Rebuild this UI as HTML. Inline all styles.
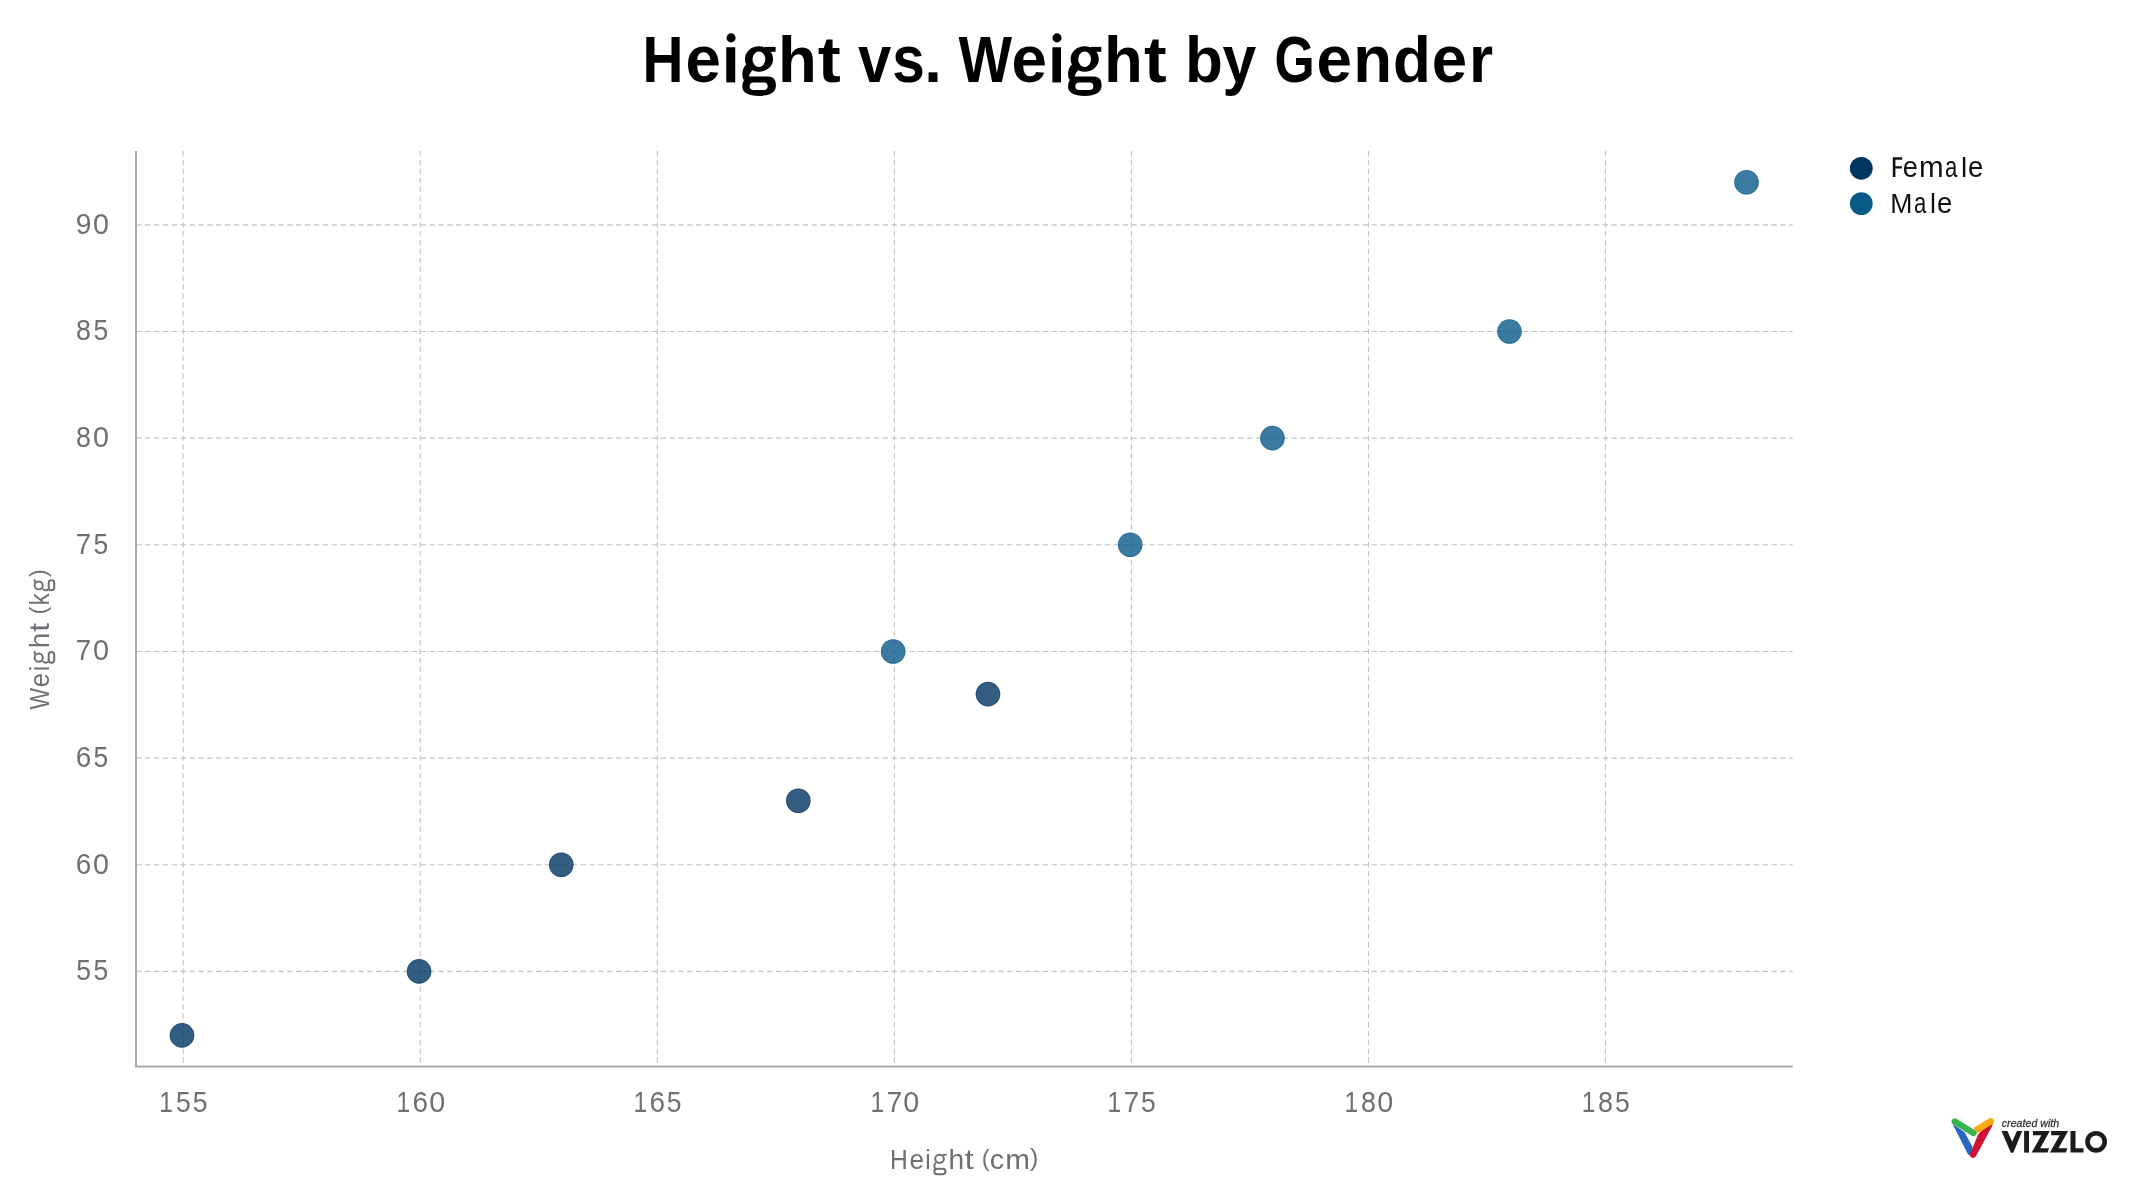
<!DOCTYPE html>
<html><head><meta charset="utf-8"><style>
html,body{margin:0;padding:0;background:#fff;width:2133px;height:1200px;overflow:hidden}
svg{display:block;will-change:transform}
text{font-family:"Liberation Sans",sans-serif}
</style></head><body>
<svg width="2133" height="1200" viewBox="0 0 2133 1200">
<rect width="2133" height="1200" fill="#fff"/>
<g stroke="#c3c3c3" stroke-width="1.11" stroke-dasharray="5.4 3.488"><line x1="183.20" y1="151.046" x2="183.20" y2="1066" /><line x1="420.25" y1="151.046" x2="420.25" y2="1066" /><line x1="657.30" y1="151.046" x2="657.30" y2="1066" /><line x1="894.35" y1="151.046" x2="894.35" y2="1066" /><line x1="1131.40" y1="151.046" x2="1131.40" y2="1066" /><line x1="1368.45" y1="151.046" x2="1368.45" y2="1066" /><line x1="1605.50" y1="151.046" x2="1605.50" y2="1066" /><line x1="136.06" y1="971.40" x2="1792.7" y2="971.40" /><line x1="136.06" y1="864.75" x2="1792.7" y2="864.75" /><line x1="136.06" y1="758.10" x2="1792.7" y2="758.10" /><line x1="136.06" y1="651.45" x2="1792.7" y2="651.45" /><line x1="136.06" y1="544.80" x2="1792.7" y2="544.80" /><line x1="136.06" y1="438.15" x2="1792.7" y2="438.15" /><line x1="136.06" y1="331.50" x2="1792.7" y2="331.50" /><line x1="136.06" y1="224.85" x2="1792.7" y2="224.85" /></g>
<path d="M136 151 V1066.6 H1792.7" fill="none" stroke="#a9a9a9" stroke-width="2"/>
<g font-size="29" fill="#6e7075"><text transform="translate(76.26 980.15) scale(0.9124 1.025)">5</text><text transform="translate(93.56 980.15) scale(0.9124 1.025)">5</text><text transform="translate(75.71 873.50) scale(0.9627 1.025)">6</text><text transform="translate(92.91 873.50) scale(0.9928 1.025)">0</text><text transform="translate(75.71 766.85) scale(0.9627 1.025)">6</text><text transform="translate(93.56 766.85) scale(0.9124 1.025)">5</text><text transform="translate(75.87 660.20) scale(0.9545 1.025)">7</text><text transform="translate(92.91 660.20) scale(0.9928 1.025)">0</text><text transform="translate(75.87 553.55) scale(0.9545 1.025)">7</text><text transform="translate(93.56 553.55) scale(0.9124 1.025)">5</text><text transform="translate(76.10 446.90) scale(0.9265 1.025)">8</text><text transform="translate(92.91 446.90) scale(0.9928 1.025)">0</text><text transform="translate(76.10 340.25) scale(0.9265 1.025)">8</text><text transform="translate(93.56 340.25) scale(0.9124 1.025)">5</text><text transform="translate(75.68 233.60) scale(0.9776 1.025)">9</text><text transform="translate(92.91 233.60) scale(0.9928 1.025)">0</text><text transform="translate(159.33 1112.20) scale(0.8480 1.0)">1</text><text transform="translate(175.96 1112.20) scale(0.9124 1.0)">5</text><text transform="translate(192.76 1112.20) scale(0.9124 1.0)">5</text><text transform="translate(396.38 1112.20) scale(0.8480 1.0)">1</text><text transform="translate(412.46 1112.20) scale(0.9627 1.0)">6</text><text transform="translate(429.16 1112.20) scale(0.9928 1.0)">0</text><text transform="translate(633.43 1112.20) scale(0.8480 1.0)">1</text><text transform="translate(649.51 1112.20) scale(0.9627 1.0)">6</text><text transform="translate(666.86 1112.20) scale(0.9124 1.0)">5</text><text transform="translate(870.48 1112.20) scale(0.8480 1.0)">1</text><text transform="translate(886.72 1112.20) scale(0.9545 1.0)">7</text><text transform="translate(903.26 1112.20) scale(0.9928 1.0)">0</text><text transform="translate(1107.53 1112.20) scale(0.8480 1.0)">1</text><text transform="translate(1123.77 1112.20) scale(0.9545 1.0)">7</text><text transform="translate(1140.96 1112.20) scale(0.9124 1.0)">5</text><text transform="translate(1344.58 1112.20) scale(0.8480 1.0)">1</text><text transform="translate(1361.05 1112.20) scale(0.9265 1.0)">8</text><text transform="translate(1377.36 1112.20) scale(0.9928 1.0)">0</text><text transform="translate(1581.63 1112.20) scale(0.8480 1.0)">1</text><text transform="translate(1598.10 1112.20) scale(0.9265 1.0)">8</text><text transform="translate(1615.06 1112.20) scale(0.9124 1.0)">5</text></g>
<g transform="translate(892.1 1168.9)" font-size="28" fill="#6e7075"><text transform="translate(-2.02 0) scale(0.8782 1)">H</text><text transform="translate(17.28 0) scale(0.9313 1)">e</text><text transform="translate(33.24 0) scale(0.8750 1)">i</text><g transform="translate(41.10 0) scale(1.0000 1)" fill="none" stroke="#6e7075"><ellipse cx="6.35" cy="-10.05" rx="4.35" ry="4.05" stroke-width="2.0"/><path d="M9.6 -14.1 H13.3" stroke-width="1.9"/><path d="M2.6 -6.2 Q-0.2 -3.0 2.2 -0.2" stroke-width="1.9"/><rect x="1.1" y="-0.05" width="11.1" height="5.5" rx="2.75" stroke-width="2.0"/></g><text transform="translate(56.28 0) scale(1.0084 1)">h</text><text transform="translate(72.54 0) scale(1.1389 1)">t</text><text transform="translate(89.75 -2.77) scale(0.8514 0.824)">(</text><text transform="translate(97.77 0) scale(1.0248 1)">c</text><text transform="translate(113.18 0) scale(1.0612 1)">m</text><text transform="translate(137.82 -2.77) scale(0.8919 0.824)">)</text></g>
<g transform="translate(48.75 710) rotate(-90)" font-size="28" fill="#6e7075"><text transform="translate(0.44 0) scale(0.8161 1)">W</text><text transform="translate(22.66 0) scale(0.9046 1)">e</text><text transform="translate(39.10 0) scale(0.7917 1)">i</text><g transform="translate(46.25 0) scale(0.9662 1)" fill="none" stroke="#6e7075"><ellipse cx="6.35" cy="-10.05" rx="4.35" ry="4.05" stroke-width="2.0"/><path d="M9.6 -14.1 H13.3" stroke-width="1.9"/><path d="M2.6 -6.2 Q-0.2 -3.0 2.2 -0.2" stroke-width="1.9"/><rect x="1.1" y="-0.05" width="11.1" height="5.5" rx="2.75" stroke-width="2.0"/></g><text transform="translate(61.82 0) scale(0.9916 1)">h</text><text transform="translate(78.30 0) scale(1.1319 1)">t</text><text transform="translate(95.48 -2.77) scale(0.8378 0.824)">(</text><text transform="translate(104.58 0) scale(0.8802 1)">k</text><g transform="translate(118.75 0) scale(0.9135 1)" fill="none" stroke="#6e7075"><ellipse cx="6.35" cy="-10.05" rx="4.35" ry="4.05" stroke-width="2.0"/><path d="M9.6 -14.1 H13.3" stroke-width="1.9"/><path d="M2.6 -6.2 Q-0.2 -3.0 2.2 -0.2" stroke-width="1.9"/><rect x="1.1" y="-0.05" width="11.1" height="5.5" rx="2.75" stroke-width="2.0"/></g><text transform="translate(132.94 -2.77) scale(0.8108 0.824)">)</text></g>
<circle cx="182.00" cy="1035.39" r="12.3" fill="#003562" fill-opacity="0.8"/><circle cx="182.00" cy="1035.39" r="11.8" fill="none" stroke="#003562" stroke-opacity="0.3" stroke-width="1"/><circle cx="419.05" cy="971.40" r="12.3" fill="#003562" fill-opacity="0.8"/><circle cx="419.05" cy="971.40" r="11.8" fill="none" stroke="#003562" stroke-opacity="0.3" stroke-width="1"/><circle cx="561.28" cy="864.75" r="12.3" fill="#003562" fill-opacity="0.8"/><circle cx="561.28" cy="864.75" r="11.8" fill="none" stroke="#003562" stroke-opacity="0.3" stroke-width="1"/><circle cx="798.33" cy="800.76" r="12.3" fill="#003562" fill-opacity="0.8"/><circle cx="798.33" cy="800.76" r="11.8" fill="none" stroke="#003562" stroke-opacity="0.3" stroke-width="1"/><circle cx="987.97" cy="694.11" r="12.3" fill="#003562" fill-opacity="0.8"/><circle cx="987.97" cy="694.11" r="11.8" fill="none" stroke="#003562" stroke-opacity="0.3" stroke-width="1"/><circle cx="893.15" cy="651.45" r="12.3" fill="#0a5a8a" fill-opacity="0.8"/><circle cx="893.15" cy="651.45" r="11.8" fill="none" stroke="#0a5a8a" stroke-opacity="0.3" stroke-width="1"/><circle cx="1130.20" cy="544.80" r="12.3" fill="#0a5a8a" fill-opacity="0.8"/><circle cx="1130.20" cy="544.80" r="11.8" fill="none" stroke="#0a5a8a" stroke-opacity="0.3" stroke-width="1"/><circle cx="1272.43" cy="438.15" r="12.3" fill="#0a5a8a" fill-opacity="0.8"/><circle cx="1272.43" cy="438.15" r="11.8" fill="none" stroke="#0a5a8a" stroke-opacity="0.3" stroke-width="1"/><circle cx="1509.48" cy="331.50" r="12.3" fill="#0a5a8a" fill-opacity="0.8"/><circle cx="1509.48" cy="331.50" r="11.8" fill="none" stroke="#0a5a8a" stroke-opacity="0.3" stroke-width="1"/><circle cx="1746.53" cy="182.19" r="12.3" fill="#0a5a8a" fill-opacity="0.8"/><circle cx="1746.53" cy="182.19" r="11.8" fill="none" stroke="#0a5a8a" stroke-opacity="0.3" stroke-width="1"/>
<circle cx="1861.3" cy="168.3" r="11.4" fill="#003562"/>
<circle cx="1861.3" cy="203.6" r="11.4" fill="#0a5a87"/>
<g font-size="28" fill="#111"><text transform="translate(1902.73 177.1) scale(0.9771 1.03)">e</text><text transform="translate(1919.09 177.1) scale(1.0561 1.03)">m</text><text transform="translate(1944.95 177.1) scale(0.7917 1.03)">a</text><text transform="translate(1960.90 177.1) scale(1.0000 1.0)">l</text><text transform="translate(1968.02 177.1) scale(0.9847 1.03)">e</text><text transform="translate(1890.31 213.0) scale(0.9519 1.0)">M</text><text transform="translate(1914.05 213.0) scale(0.7917 1.03)">a</text><text transform="translate(1930.08 213.0) scale(0.9583 1.0)">l</text><text transform="translate(1937.12 213.0) scale(0.9847 1.03)">e</text><path d="M1892.8 157.3 H1902.2 V159.7 H1895.4 V166.2 H1901.9 V168.6 H1895.4 V177.1 H1892.8 Z"/></g>
<g font-size="65.5" font-weight="bold" fill="#000"><text transform="translate(642.59 82.4) scale(0.8662 1.0)">H</text><text transform="translate(685.47 82.4) scale(0.9731 1.027)">e</text><rect x="726.25" y="47.25" width="9.00" height="35.15"/><circle cx="731.05" cy="37.9" r="4.55"/><path fill-rule="evenodd" d="M744.90 59 A14.1 12.75 0 1 0 773.10 59 A14.1 12.75 0 1 0 744.90 59 Z M752.50 59.25 A6.4 7.75 0 1 0 765.30 59.25 A6.4 7.75 0 1 0 752.50 59.25 Z"/><rect x="765.00" y="46.9" width="10.6" height="4.9"/><path d="M746.80 64.0 C742.20 68.0 741.40 74 743.40 79.5 L750.00 80.5 C748.40 78 748.60 74.0 753.00 69.6 Z"/><path fill-rule="evenodd" d="M749.40 76.5 H767.90 C773.90 76.5 775.90 80 775.90 85.6 C775.90 92.5 769.90 95.9 759.15 95.9 C748.40 95.9 742.40 92.5 742.40 87 C742.40 81 745.40 76.5 749.40 76.5 Z M753.40 82.5 H763.90 A3.75 3.75 0 0 1 763.90 90 H753.40 A3.75 3.75 0 0 1 753.40 82.5 Z"/><text transform="translate(778.09 82.4) scale(0.9696 1.0)">h</text><text transform="translate(817.86 82.4) scale(1.0545 1.0)">t</text><text transform="translate(857.98 82.4) scale(0.9120 1.027)">v</text><text transform="translate(892.24 82.4) scale(0.8949 1.027)">s</text><text transform="translate(924.14 82.4) scale(0.9677 1.0)">.</text><text transform="translate(958.51 82.4) scale(0.8653 1.0)">W</text><text transform="translate(1011.57 82.4) scale(0.9747 1.027)">e</text><rect x="1052.40" y="47.25" width="8.60" height="35.15"/><circle cx="1057.00" cy="37.9" r="4.55"/><path fill-rule="evenodd" d="M1070.60 59 A14.1 12.75 0 1 0 1098.80 59 A14.1 12.75 0 1 0 1070.60 59 Z M1078.20 59.25 A6.4 7.75 0 1 0 1091.00 59.25 A6.4 7.75 0 1 0 1078.20 59.25 Z"/><rect x="1090.70" y="46.9" width="10.6" height="4.9"/><path d="M1072.50 64.0 C1067.90 68.0 1067.10 74 1069.10 79.5 L1075.70 80.5 C1074.10 78 1074.30 74.0 1078.70 69.6 Z"/><path fill-rule="evenodd" d="M1075.10 76.5 H1093.60 C1099.60 76.5 1101.60 80 1101.60 85.6 C1101.60 92.5 1095.60 95.9 1084.85 95.9 C1074.10 95.9 1068.10 92.5 1068.10 87 C1068.10 81 1071.10 76.5 1075.10 76.5 Z M1079.10 82.5 H1089.60 A3.75 3.75 0 0 1 1089.60 90 H1079.10 A3.75 3.75 0 0 1 1079.10 82.5 Z"/><text transform="translate(1103.94 82.4) scale(0.9696 1.0)">h</text><text transform="translate(1144.07 82.4) scale(1.0396 1.0)">t</text><text transform="translate(1185.03 82.4) scale(0.9455 1.0)">b</text><text transform="translate(1222.44 82.4) scale(0.9270 1.027)">y</text><text transform="translate(1274.62 82.4) scale(0.7885 1.0)">G</text><text transform="translate(1316.57 82.4) scale(0.9747 1.027)">e</text><text transform="translate(1353.22 82.4) scale(0.9715 1.027)">n</text><text transform="translate(1392.95 82.4) scale(0.9455 1.0)">d</text><text transform="translate(1431.87 82.4) scale(0.9715 1.027)">e</text><text transform="translate(1468.93 82.4) scale(0.9455 1.027)">r</text></g>
<g id="logo">
<path d="M1952.3 1123.6 L1968.0 1154.2 Q1969.6 1156.6 1971.6 1153.8 L1972.6 1147.0 L1964.6 1132.2 Z" fill="#2867c0"/>
<path d="M1970.0 1153.9 L1978.2 1134.2 L1989.8 1122.8 L1992.9 1124.8 L1975.9 1156.2 Q1973.6 1159.2 1970.9 1157.2 Q1969.3 1155.6 1970.0 1153.9 Z" fill="#cf1236"/>
<path d="M1973.4 1128.0 L1988.9 1118.6 A3.3 3.3 0 0 1 1992.5 1124.2 L1976.6 1133.8 Z" fill="#fdab12"/>
<path d="M1954.7 1121.4 L1973.4 1133.0" stroke="#35b64f" stroke-width="6.2" stroke-linecap="round" fill="none"/>
<text transform="translate(2001.8 1126.6) scale(1.034 1)" font-size="10.3" font-style="italic" fill="#333" stroke="#333" stroke-width="0.25">created with</text>
<g fill="#1b1b1b">
<path d="M2001.5 1130.9 H2007.4 L2012.2 1141.8 L2016.9 1130.9 H2022.2 L2013.3 1152.7 H2010.9 Z"/>
<rect x="2024.1" y="1130.9" width="4.9" height="21.7"/>
<path d="M2032.9 1130.9 H2049.8 L2040.2 1148.2 H2049.0 L2047.6 1152.6 H2031.6 L2041.4 1135.2 H2032.9 Z"/>
<path d="M2051.2 1130.9 H2068.1 L2058.5 1148.2 H2067.3 L2065.9 1152.6 H2049.9 L2059.7 1135.2 H2051.2 Z"/>
<path d="M2070.5 1130.9 H2075.5 V1148.2 H2083.5 V1152.6 H2070.5 Z"/>
</g>
<circle cx="2096.1" cy="1141.8" r="8.6" fill="none" stroke="#1b1b1b" stroke-width="4.6"/>
</g>
</svg></body></html>
